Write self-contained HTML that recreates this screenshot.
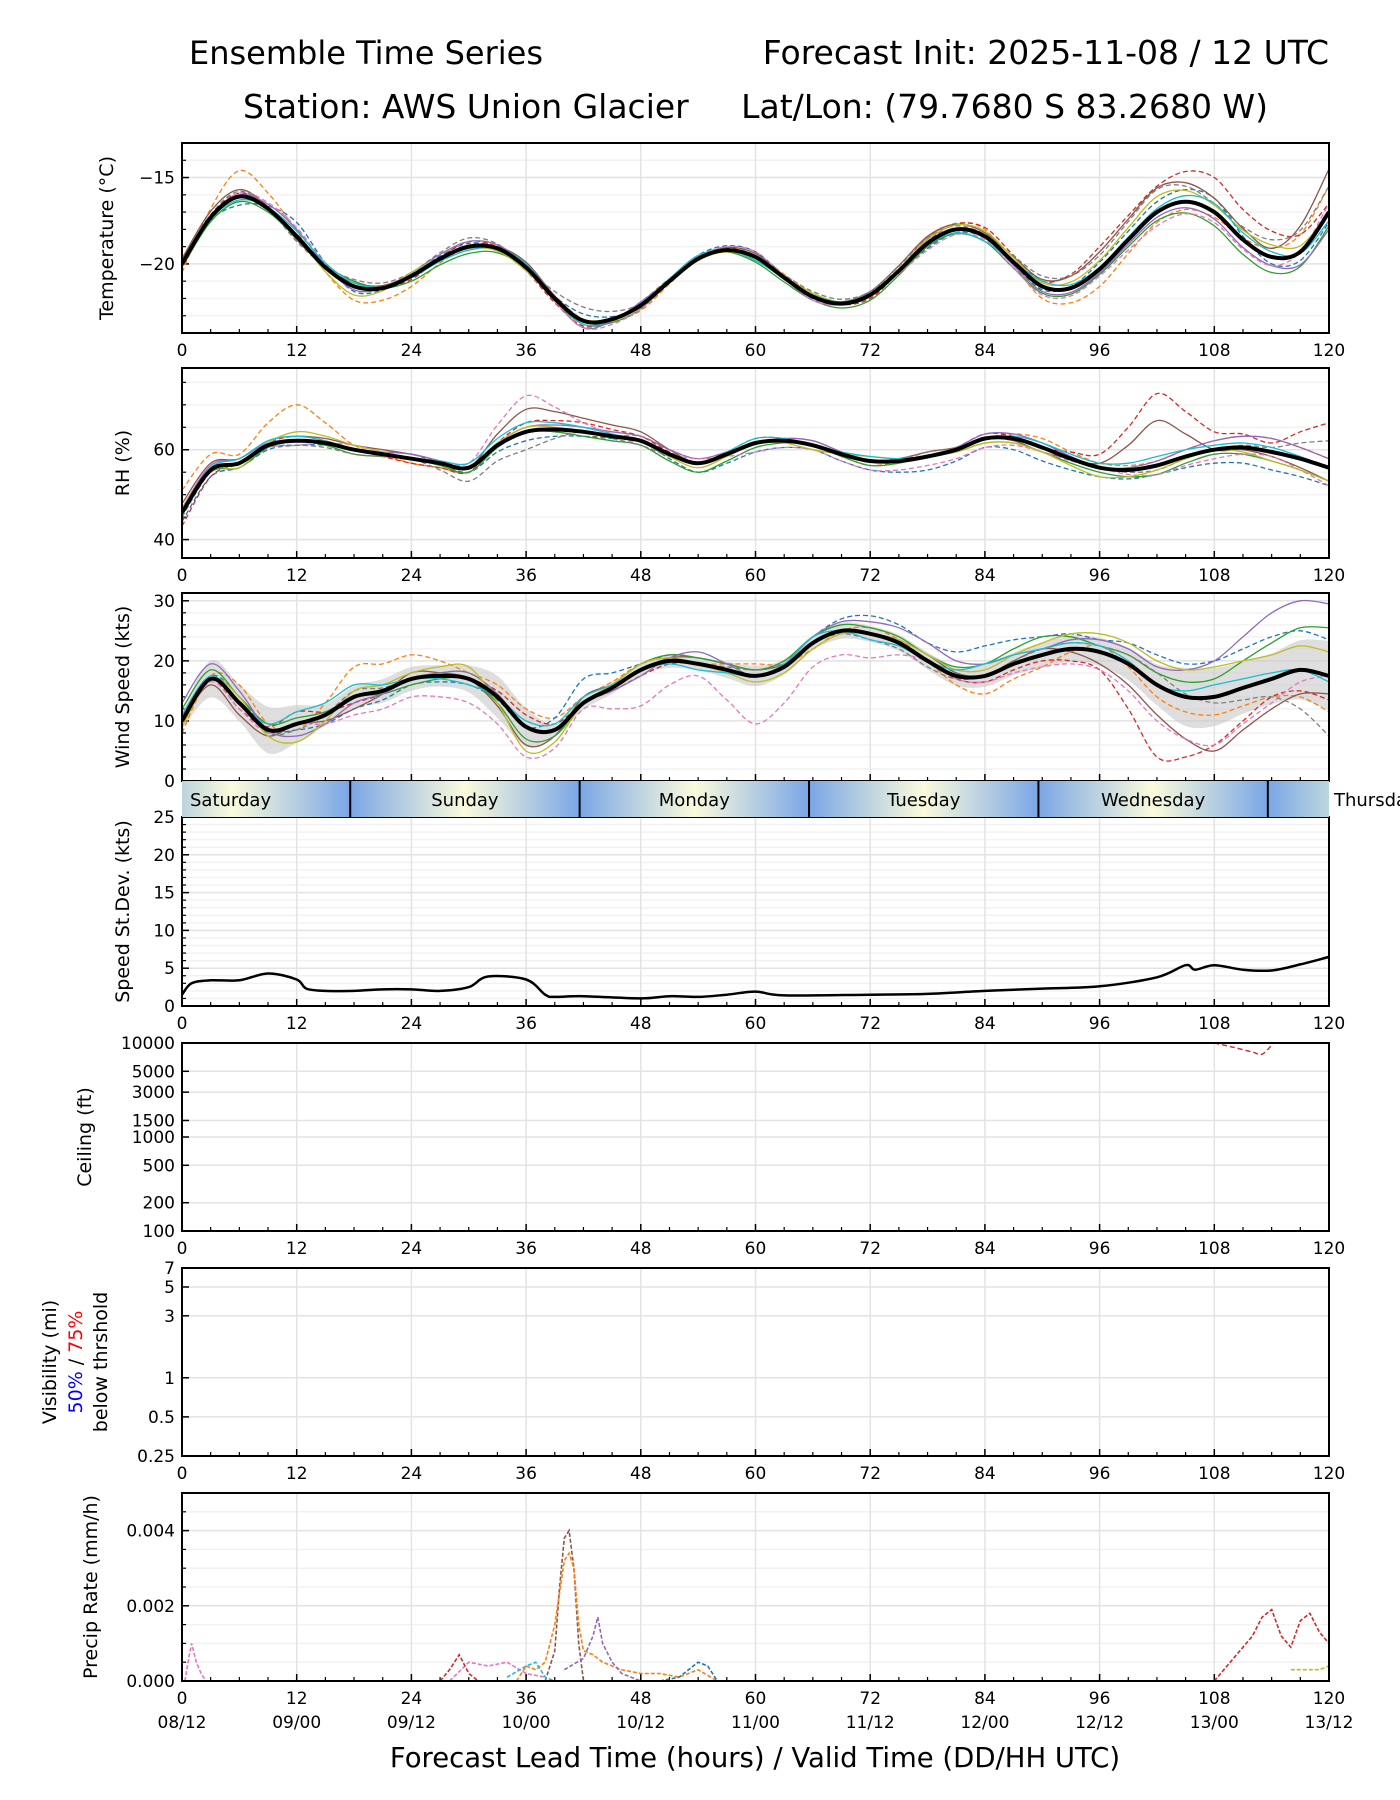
<!DOCTYPE html>
<html><head><meta charset="utf-8">
<style>
html,body{margin:0;padding:0;background:#fff;}
svg{display:block;font-family:"DejaVu Sans","Liberation Sans",sans-serif;}
</style></head>
<body>
<svg id="chart" width="1400" height="1800" viewBox="0 0 1400 1800" xmlns="http://www.w3.org/2000/svg">
<text x="366" y="64" font-size="32" text-anchor="middle">Ensemble Time Series</text>
<text x="1329" y="64" font-size="33" text-anchor="end">Forecast Init: 2025-11-08 / 12 UTC</text>
<text x="243" y="118" font-size="33" text-anchor="start">Station: AWS Union Glacier</text>
<text x="1268" y="118" font-size="33" text-anchor="end">Lat/Lon: (79.7680 S 83.2680 W)</text>
<text x="755" y="1767" font-size="27.5" text-anchor="middle">Forecast Lead Time (hours) / Valid Time (DD/HH UTC)</text>
</svg>
<script>
const hours3 = [0,3,6,9,12,15,18,21,24,27,30,33,36,39,42,45,48,51,54,57,60,63,66,69,72,75,78,81,84,87,90,93,96,99,102,105,108,111,114,117,120];
const tempMean = [-20,-17.3,-16.1,-16.8,-18.4,-20.2,-21.3,-21.4,-20.7,-19.7,-19.0,-19.1,-20.2,-22.0,-23.3,-23.2,-22.4,-21.0,-19.7,-19.2,-19.6,-20.8,-21.9,-22.3,-21.8,-20.4,-18.8,-18.0,-18.4,-19.9,-21.3,-21.4,-20.3,-18.6,-17.0,-16.4,-17.0,-18.6,-19.6,-19.3,-17.0];
const rhMean = [46,55.5,57,61,62,61.5,60,59,58,57,56,61,64,64.5,64,63,62,59,57,59,61.5,62,61,59,57.5,57.5,58.5,60,62.5,62.5,60.5,58,56,55.5,56.5,58.5,60,60.5,59.5,58,56];
const windMean = [10,17,13,8.5,9.5,11,14,15,17,17.5,17,14,9,8.5,13,15.5,18.5,20,19.5,18.5,17.5,19,23,25,24.5,23,20,17.5,17.5,19.5,21,22,21.5,19.5,16,14,14,15.5,17,18.5,17.5];
const windStd = [1.5,3.4,3.4,4.3,3.5,2,2,2.2,2.2,2,2.5,3.9,3.5,1.2,1.3,1.1,1,1.3,1.2,1.5,1.9,1.4,1.4,1.5,1.5,1.5,1.6,1.8,2,2.1,2.3,2.5,2.6,3,3.8,5.4,5.4,4.8,4.7,5.5,6.5];
const hours6 = [0,6,12,18,24,30,36,42,48,54,60,66,72,78,84,90,96,102,108,114,120];
const tempDev = [
[-0.5,1.5,0.3,-0.8,-0.6,0.1,0.2,0.1,-0.3,0,0.2,0.2,-0.1,0.3,0.4,-0.7,-1.0,-0.6,-0.3,0.5,1.5],
[0.2,-0.5,0.8,-0.3,0.1,0.2,-0.2,0.4,-0.1,0.2,0.3,-0.1,0.2,-0.3,-0.1,-0.2,0.4,0.6,0.8,-0.4,-0.6],
[0,0.2,0,0.3,-0.2,0.3,-0.2,-0.3,0.2,0.1,-0.1,0.1,-0.2,0.1,0.5,0.3,1.3,1.5,2.0,1.5,0.5],
[0.3,0.4,-0.2,0.2,0.1,-0.1,0.3,0,0.1,0.1,0.2,0,0.2,0.4,0.2,0.4,1.0,1.4,0.8,0.5,2.5],
[-0.2,-0.3,-0.1,0.3,-0.3,-0.4,-0.1,-0.2,-0.2,0.1,-0.3,-0.2,-0.3,-0.2,-0.3,-0.4,-0.3,-0.5,-0.8,-0.9,-0.8],
[0.1,0.1,0.4,-0.2,0.2,0.3,0.1,-0.4,0.2,-0.1,0.1,-0.2,0.1,0,-0.1,-0.3,-0.2,-0.3,-0.4,-0.5,-1.0],
[-0.2,0.2,0.5,0,0,-0.2,0.1,-0.4,-0.2,0.1,0.3,-0.2,0.1,-0.4,-0.2,-0.5,-0.4,-0.8,-0.6,-0.5,0.5],
[0,0.3,-0.3,0.4,0.2,0.5,0,0.8,0.1,0.1,0,0.3,0.2,0.3,0.1,0.6,0.8,1.3,0.5,1.0,1.5],
[0.1,0,0,-0.5,0.2,-0.1,-0.2,0.1,0,-0.1,-0.1,0.2,0,0.2,0.3,0.2,0.5,0.9,0.4,0.7,0],
[0,-0.2,0.3,0.2,-0.1,-0.2,0.2,-0.2,0.1,0.2,-0.2,0.1,0.1,-0.1,-0.3,0.3,0.1,0.2,0.5,0.3,-0.5]];
const rhDev = [
[5,2,8,1,-1,-1,0,-1,1,1,0,0,-1,1,0,2,1,1,2,3,2],
[-2,-1,-1,0,1,-1,-2,-1,0,-2,-2,-1,-2,-3,-2,-3,-2,-2,-3,-4,-4],
[-3,0,1,0,-1,-1,2,2,1,0,1,0,0,0,1,0,3,16,4,2,10],
[2,1,1,1,1,0,5,3,2,0,0,1,0,1,0,-1,1,10,0,-1,-3],
[0,-1,0,-1,0,-1,0,-1,-1,-2,-1,0,-1,0,-1,-1,-1,-2,-1,-2,-3],
[1,1,0,0,1,0,1,1,1,1,0,1,0,0,1,1,0,1,2,3,2],
[0,0,-1,1,0,1,8,2,-1,1,-2,-1,-2,-2,-2,-1,0,-2,-2,-1,-4],
[-1,0,-1,-1,0,-3,-4,0,-1,0,0,0,0,1,0,0,0,-1,0,1,6],
[1,-1,2,1,0,0,1,0,0,-1,0,-1,1,0,-1,-1,-2,-1,0,-2,-3],
[0,1,1,0,0,1,2,1,0,0,1,0,1,0,0,1,1,2,1,1,0]];
const windDev = [
[-2,3,-1,5,4,1,3,1,1,0,2,-1,1,0,-3,-2,1,-2,-3,-3,-6],
[0,1,-1,-2,-1,-1,0,4,1,1,1,1,3,3,5,3,2,5,6,7,6],
[1,-1,2,-1,0,0,2,0,-1,0,0,0,0,0,-1,-1,-3,-12,-8,-3,-4],
[0,-2,0,-2,1,0,-3,1,0,1,1,0,0,1,0,1,-2,-5,-9,-5,-3],
[2,1,1,0,-1,0,-2,0,1,1,1,1,1,1,2,3,1,2,3,6,8],
[3,2,-2,-1,0,1,0,0,-1,2,0,1,2,3,2,1,2,3,6,11,12],
[0,-1,0,-3,-3,-4,-5,-1,-6,-2,-8,-4,-4,0,-1,-2,-3,-6,-8,-4,0],
[0,0,-1,1,0,1,0,0,1,0,1,0,-1,-1,0,1,1,2,-1,-3,-10],
[-1,1,-3,1,1,2,-4,0,1,0,-1,-1,0,1,1,2,3,4,5,4,4],
[1,0,2,2,0,-1,1,1,0,-1,0,1,-1,0,2,1,1,0,2,1,-1]];
const memberColors = ["#ff7f0e","#1f77b4","#d62728","#8c564b","#2ca02c","#9467bd","#e377c2","#7f7f7f","#bcbd22","#17becf"];
const memberDashed = [true,true,true,false,false,false,true,true,false,false];
const stdHours = [0,1,3,6,9,12,13,15,18,21,24,27,30,32,36,38,39,42,48,51,54,57,60,63,72,78,84,90,96,102,105,106,108,111,114,117,120];
const stdVals = [1.5,3,3.4,3.4,4.3,3.5,2.3,2,2,2.2,2.2,2,2.5,3.9,3.5,1.5,1.2,1.3,1,1.3,1.2,1.5,1.9,1.4,1.5,1.6,2,2.3,2.6,3.8,5.4,4.8,5.4,4.8,4.7,5.5,6.5];
const ceilHours = [108,110,112,113,114];
const ceilVals = [10000,9000,8000,7600,9500];
const precipSeries = [
 {c:"#8c564b",h:[38,39,39.5,40,40.5,41,41.5,42],v:[0,0.0008,0.0025,0.0038,0.004,0.003,0.001,0]},
 {c:"#ff7f0e",h:[35,36,37,38,39,40,40.5,41,41.5,42,43,44,46,48,50,52,54,56],v:[0,0.0004,0.0003,0.0005,0.0015,0.0032,0.0034,0.003,0.0015,0.0008,0.0007,0.0005,0.0003,0.0002,0.0002,0.0001,0.0003,0]},
 {c:"#9467bd",h:[40,42,43,43.5,44,45,46,48],v:[0.0003,0.0006,0.0012,0.0017,0.001,0.0005,0.0002,0]},
 {c:"#d62728",h:[108,109,110,111,112,113,114,115,116,117,118,119,120],v:[0,0.0003,0.0006,0.0009,0.0012,0.0017,0.0019,0.0012,0.0009,0.0016,0.0018,0.0013,0.001]},
 {c:"#e377c2",h:[0.3,0.7,1,1.5,2,2.5],v:[0,0.0006,0.001,0.0005,0.0002,0]},
 {c:"#e377c2",h:[28,30,32,34,36,38],v:[0,0.0005,0.0004,0.0005,0.0002,0.0001]},
 {c:"#d62728",h:[27,28,29,30,31],v:[0,0.0003,0.0007,0.0002,0]},
 {c:"#1f77b4",h:[50,52,53,54,55,56],v:[0,0.0001,0.0003,0.0005,0.0004,0]},
 {c:"#17becf",h:[34,36,37,38,39],v:[0.0001,0.0004,0.0005,0.0001,0]},
 {c:"#bcbd22",h:[116,117,118,119,120],v:[0.0003,0.0003,0.0003,0.0003,0.0004]}];
const dayNames = ["Saturday","Sunday","Monday","Tuesday","Wednesday"];
const dayBounds = [0,17.6,41.6,65.6,89.6,113.6,120];
const xTicks = [0,12,24,36,48,60,72,84,96,108,120];
const dateLabels = ["08/12","09/00","09/12","10/00","10/12","11/00","11/12","12/00","12/12","13/00","13/12"];

const NS="http://www.w3.org/2000/svg";
const svg=document.getElementById('chart');
const X0=182,X1=1329;
const xs=h=>X0+(X1-X0)*h/120;
function el(tag,attrs,parent){const e=document.createElementNS(NS,tag);for(const k in attrs)e.setAttribute(k,attrs[k]);(parent||svg).appendChild(e);return e;}
function interp(hArr,vArr,h){for(let i=0;i<hArr.length-1;i++){if(h<=hArr[i+1]){const t=(h-hArr[i])/(hArr[i+1]-hArr[i]);return vArr[i]+t*(vArr[i+1]-vArr[i]);}}return vArr[vArr.length-1];}
function smoothPath(pts){let d="M"+pts[0][0].toFixed(1)+","+pts[0][1].toFixed(1);for(let i=0;i<pts.length-1;i++){const p0=pts[Math.max(0,i-1)],p1=pts[i],p2=pts[i+1],p3=pts[Math.min(pts.length-1,i+2)];const c1=[p1[0]+(p2[0]-p0[0])/6,p1[1]+(p2[1]-p0[1])/6],c2=[p2[0]-(p3[0]-p1[0])/6,p2[1]-(p3[1]-p1[1])/6];d+="C"+c1[0].toFixed(1)+","+c1[1].toFixed(1)+" "+c2[0].toFixed(1)+","+c2[1].toFixed(1)+" "+p2[0].toFixed(1)+","+p2[1].toFixed(1);}return d;}

function makePanel(p){
 const g=el('g',{});
 
 
 const ys=p.log?(v=>p.bot-(p.bot-p.top)*(Math.log(v)-Math.log(p.min))/(Math.log(p.max)-Math.log(p.min))):(v=>p.bot-(p.bot-p.top)*(v-p.min)/(p.max-p.min));
 (p.minor||[]).forEach(v=>{const y=ys(v);const l=el('line',{x1:X0,x2:X1,y1:y,y2:y,stroke:"#f2f2f2","stroke-width":1.5},g);
  const t=el('line',{x1:X0,x2:X0+4,y1:y,y2:y,stroke:"#000","stroke-width":1.2},g);});
 xTicks.forEach(h=>{const l=el('line',{x1:xs(h),x2:xs(h),y1:p.top,y2:p.bot,stroke:"#e3e3e3","stroke-width":1.5},g);});
 p.major.forEach((v,i)=>{const y=ys(v);const l=el('line',{x1:X0,x2:X1,y1:y,y2:y,stroke:"#e3e3e3","stroke-width":1.5},g);
  const t=el('line',{x1:X0,x2:X0+7,y1:y,y2:y,stroke:"#000","stroke-width":1.5},g);
  const tx=el('text',{x:X0-7,y:y+6,"font-size":17,"text-anchor":"end"},g);tx.textContent=p.labels[i];});
 for(let h=0;h<=120;h+=3){const major=h%12===0;const t=el('line',{x1:xs(h),x2:xs(h),y1:p.bot,y2:p.bot-(major?7:4),stroke:"#000","stroke-width":major?1.5:1.2},g);}
 if(!p.noXLabels) xTicks.forEach(h=>{const tx=el('text',{x:xs(h),y:p.bot+23,"font-size":17,"text-anchor":"middle"},g);tx.textContent=String(h);});
 const cx=el('clipPath',{id:'clip-'+p.name},g);el('rect',{x:X0,y:p.top,width:X1-X0,height:p.bot-p.top},cx);
 const inner=el('g',{"clip-path":"url(#clip-"+p.name+")"},g);
 
 
 if(p.draw)p.draw(inner,ys);
 const fr=el('rect',{x:X0,y:p.top,width:X1-X0,height:p.bot-p.top,fill:"none",stroke:"#000","stroke-width":2},g);
 p.ylabel.forEach(lb=>{const cy=(p.top+p.bot)/2;const tx=el('text',{x:lb.x,y:cy,"font-size":19,"text-anchor":"middle",transform:"rotate(-90 "+lb.x+" "+cy+")"},g);
  lb.parts.forEach(pt=>{const s=el('tspan',{fill:pt[1]||"#000"},tx);s.textContent=pt[0];});
  });
}
function drawEnsemble(mean,dev,band,bandScale,name){return function(g,ys){
 if(band){const up=hours3.map((h,i)=>[xs(h),ys(mean[i]+band[i]*bandScale)]);const lo=hours3.map((h,i)=>[xs(h),ys(mean[i]-band[i]*bandScale)]).reverse();
  const d=smoothPath(up)+"L"+smoothPath(lo).slice(1)+"Z";const b=el('path',{d:d,fill:"#c8c8c8","fill-opacity":0.6,stroke:"none"},g);}
 dev.forEach((dv,m)=>{const pts=hours3.map((h,i)=>[xs(h),ys(mean[i]+interp(hours6,dv,h))]);
  const l=el('path',{d:smoothPath(pts),fill:"none",stroke:memberColors[m],"stroke-width":1.3,"stroke-dasharray":memberDashed[m]?"5,3":"none"},g);
  });
 const pts=hours3.map((h,i)=>[xs(h),ys(mean[i])]);
 const l=el('path',{d:smoothPath(pts),fill:"none",stroke:"#000","stroke-width":4},g);
};}
function rng(a,b,s){const r=[];for(let v=a;v<=b+1e-9;v+=s)r.push(+v.toFixed(6));return r;}

makePanel({name:'temperature',top:143,bot:333,min:-24,max:-13,major:[-15,-20],labels:["\u221215","\u221220"],minor:rng(-24,-13,1),ylabel:[{x:113,parts:[["Temperature (\u00b0C)"]]}],draw:drawEnsemble(tempMean,tempDev,null,0,'temperature')});
makePanel({name:'rh',top:368,bot:558,min:35.9,max:78.2,major:[40,60],labels:["40","60"],minor:rng(40,75,5),ylabel:[{x:129,parts:[["RH (%)"]]}],draw:drawEnsemble(rhMean,rhDev,null,0,'rh')});
makePanel({name:'wind',top:593,bot:781,min:0,max:31.3,major:[0,10,20,30],labels:["0","10","20","30"],minor:rng(0,30,2),noXLabels:true,ylabel:[{x:129,parts:[["Wind Speed (kts)"]]}],draw:drawEnsemble(windMean,windDev,windStd,0.9,'wind')});
makePanel({name:'stddev',top:817,bot:1006,min:0,max:25,major:[0,5,10,15,20,25],labels:["0","5","10","15","20","25"],minor:rng(0,25,1),ylabel:[{x:129,parts:[["Speed St.Dev. (kts)"]]}],draw:function(g,ys){
 const pts=stdHours.map((h,i)=>[xs(h),ys(stdVals[i])]);const l=el('path',{d:smoothPath(pts),fill:"none",stroke:"#000","stroke-width":2.5},g);}});
makePanel({name:'ceiling',top:1043,bot:1231,log:true,min:100,max:10000,major:[100,200,500,1000,1500,3000,5000,10000],labels:["100","200","500","1000","1500","3000","5000","10000"],minor:[],ylabel:[{x:91,parts:[["Ceiling (ft)"]]}],draw:function(g,ys){
 const pts=ceilHours.map((h,i)=>[xs(h),ys(ceilVals[i])]);const l=el('path',{d:smoothPath(pts),fill:"none",stroke:"#d62728","stroke-width":1.4,"stroke-dasharray":"5,3"},g);}});
makePanel({name:'visibility',top:1268,bot:1456,log:true,min:0.25,max:7,major:[0.25,0.5,1,3,5,7],labels:["0.25","0.5","1","3","5","7"],minor:[],ylabel:[{x:56,parts:[["Visibility (mi)"]]},{x:82,parts:[["50%","#0000ff"],[" / "],["75%","#ff0000"]]},{x:107,parts:[["below thrshold"]]}]});
makePanel({name:'precip',top:1493,bot:1681,min:0,max:0.005,major:[0,0.002,0.004],labels:["0.000","0.002","0.004"],minor:rng(0,0.005,0.0005),ylabel:[{x:97,parts:[["Precip Rate (mm/h)"]]}],draw:function(g,ys){
 precipSeries.forEach(s=>{const pts=s.h.map((h,i)=>[xs(h),ys(s.v[i])]);const l=el('path',{d:"M"+pts.map(p=>p[0].toFixed(1)+","+p[1].toFixed(1)).join("L"),fill:"none",stroke:s.c,"stroke-width":1.6,"stroke-dasharray":"4,2"},g);});}});

xTicks.forEach((h,i)=>{const tx=el('text',{x:xs(h),y:1728,"font-size":17,"text-anchor":"middle"});tx.textContent=dateLabels[i];
 
 });

// day band
const defs=el('defs',{});
const gr=el('linearGradient',{id:'dayGrad',x1:0,x2:1,y1:0,y2:0},defs);
el('stop',{offset:"0",'stop-color':"#7aa6e6"},gr);el('stop',{offset:"0.5",'stop-color':"#fbfbdc"},gr);el('stop',{offset:"1",'stop-color':"#7aa6e6"},gr);
const gr0=el('linearGradient',{id:'dayGrad0',x1:0,x2:1,y1:0,y2:0},defs);
el('stop',{offset:"0",'stop-color':"#bcd3dd"},gr0);el('stop',{offset:"0.3",'stop-color':"#fbfbdc"},gr0);el('stop',{offset:"1",'stop-color':"#7aa6e6"},gr0);
const gr1=el('linearGradient',{id:'dayGrad1',x1:0,x2:1,y1:0,y2:0},defs);
el('stop',{offset:"0",'stop-color':"#7aa6e6"},gr1);el('stop',{offset:"1",'stop-color':"#bcd6de"},gr1);
for(let i=0;i<dayBounds.length-1;i++){
 const a=xs(dayBounds[i]),b=xs(dayBounds[i+1]);
 const fill=i===0?"url(#dayGrad0)":(i===dayBounds.length-2?"url(#dayGrad1)":"url(#dayGrad)");
 const r=el('rect',{x:a,y:781,width:b-a,height:36,fill:fill});
 
 
 if(i<dayNames.length){const tx=el('text',{x:i===0?a+8:(a+b)/2,y:806,"font-size":18,"text-anchor":i===0?"start":"middle"});tx.textContent=dayNames[i];
  
  }
 if(i>0){const l=el('line',{x1:a,x2:a,y1:781,y2:817,stroke:"#000","stroke-width":2});}
}
const th=el('text',{x:1334,y:806,"font-size":18});th.textContent="Thursday";


</script>
</body></html>
